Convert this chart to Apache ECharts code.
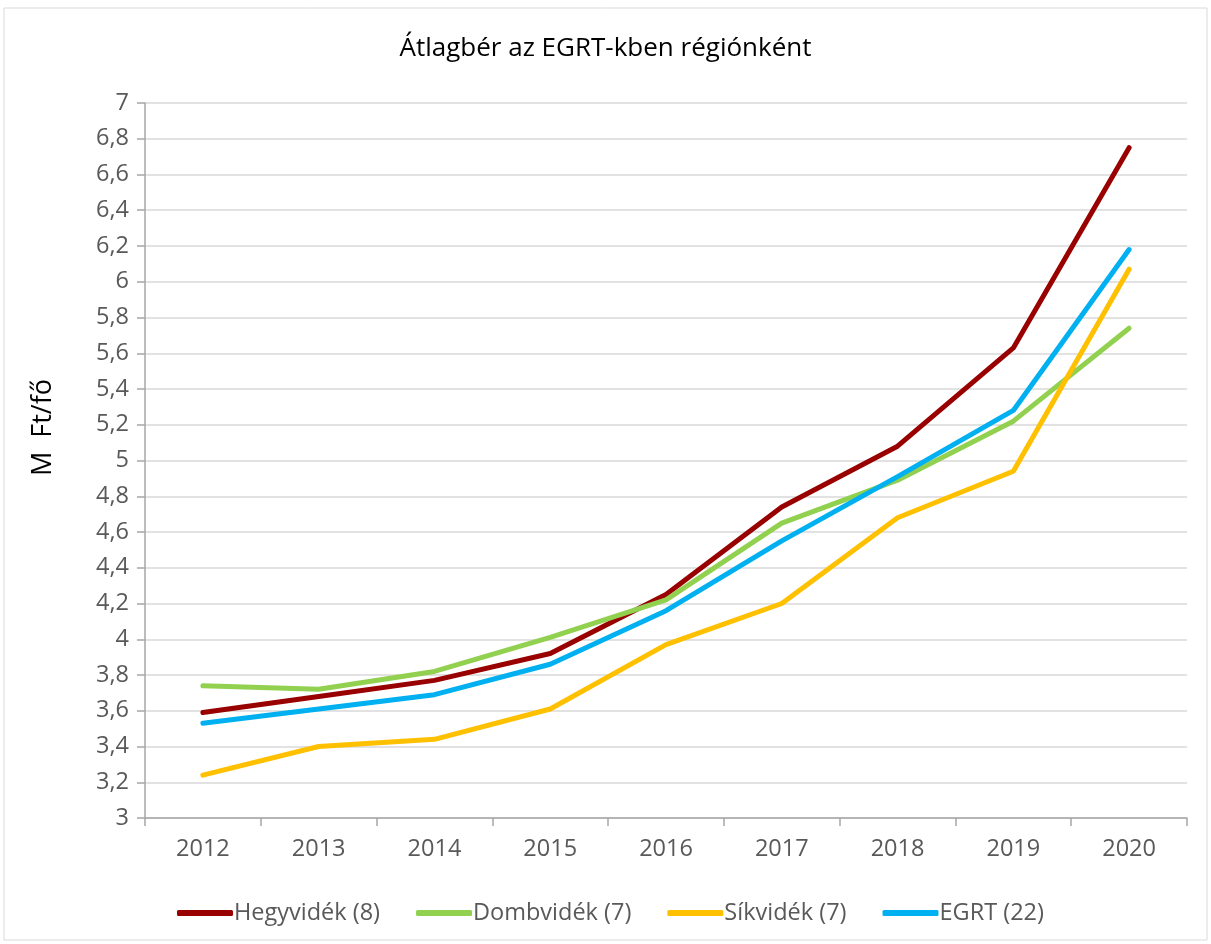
<!DOCTYPE html>
<html>
<head>
<meta charset="utf-8">
<script src="https://cdn.jsdelivr.net/npm/echarts@6/dist/echarts.min.js"></script>
<style>
  html, body { margin: 0; padding: 0; background: #fff; }
  #chart { width: 1211px; height: 944px; }
</style>
</head>
<body>
<div id="chart"></div>
<script>
const years = ['2012', '2013', '2014', '2015', '2016', '2017', '2018', '2019', '2020']
const hegyvidek = [3.59, 3.68, 3.77, 3.92, 4.25, 4.74, 5.08, 5.63, 6.75]
const dombvidek = [3.74, 3.72, 3.82, 4.01, 4.22, 4.65, 4.89, 5.22, 5.74]
const sikvidek = [3.24, 3.40, 3.44, 3.61, 3.97, 4.20, 4.68, 4.94, 6.07]
const egrt = [3.53, 3.61, 3.69, 3.86, 4.16, 4.55, 4.91, 5.28, 6.18]

const font = '"Open Sans", Lato, sans-serif'
let myChart = echarts.init(document.getElementById('chart'))

function line (name, data, color) {
  return {
    name: name,
    type: 'line',
    data: data,
    symbol: 'none',
    lineStyle: { width: 5, color: color, cap: 'round' },
    itemStyle: { color: color }
  }
}

let option = {
  animation: false,
  graphic: [{
    type: 'rect',
    shape: { x: 4, y: 8, width: 1203, height: 932 },
    style: { fill: 'none', stroke: '#d9d9d9', lineWidth: 1 },
    silent: true
  }],
  title: {
    text: 'Átlagbér az EGRT-kben régiónként',
    left: 'center',
    top: 31,
    textStyle: { fontFamily: font, fontSize: 26, fontWeight: 'normal', color: '#000' }
  },
  legend: {
    left: 172,
    top: 896,
    itemWidth: 56,
    itemHeight: 6,
    itemGap: 36,
    icon: 'roundRect',
    textStyle: { fontFamily: font, fontSize: 23.5, color: '#595959', padding: [0, 0, 0, -4] },
    data: ['Hegyvidék (8)', 'Dombvidék (7)', 'Síkvidék (7)', 'EGRT (22)']
  },
  grid: { left: 145, right: 24, top: 103, bottom: 126 },
  xAxis: {
    type: 'category',
    data: years,
    boundaryGap: true,
    axisLine: { lineStyle: { color: '#a6a6a6', width: 1.5 } },
    axisTick: { show: true, length: 8, lineStyle: { color: '#a6a6a6', width: 1.5 } },
    axisLabel: { fontFamily: font, fontSize: 23.5, color: '#595959', margin: 19 }
  },
  yAxis: {
    type: 'value',
    min: 3,
    max: 7,
    interval: 0.2,
    name: 'M  Ft/fő',
    nameLocation: 'middle',
    nameRotate: 90,
    nameGap: 88,
    nameTextStyle: { fontFamily: font, fontSize: 27, color: '#000', padding: [0, 0, 0, 66] },
    axisLine: { show: true, lineStyle: { color: '#a6a6a6', width: 1.5 } },
    axisTick: { show: true, length: 8, lineStyle: { color: '#a6a6a6', width: 1.5 } },
    splitLine: { lineStyle: { color: '#d9d9d9', width: 1.5 } },
    axisLabel: {
      fontFamily: font,
      fontSize: 23.5,
      color: '#595959',
      margin: 16,
      formatter: function (v) { return String(Math.round(v * 10) / 10).replace('.', ',') }
    }
  },
  series: [
    line('Hegyvidék (8)', hegyvidek, '#990000'),
    line('Dombvidék (7)', dombvidek, '#92d050'),
    line('Síkvidék (7)', sikvidek, '#ffc000'),
    line('EGRT (22)', egrt, '#00b0f0')
  ]
}
myChart.setOption(option, true)
</script>
</body>
</html>
